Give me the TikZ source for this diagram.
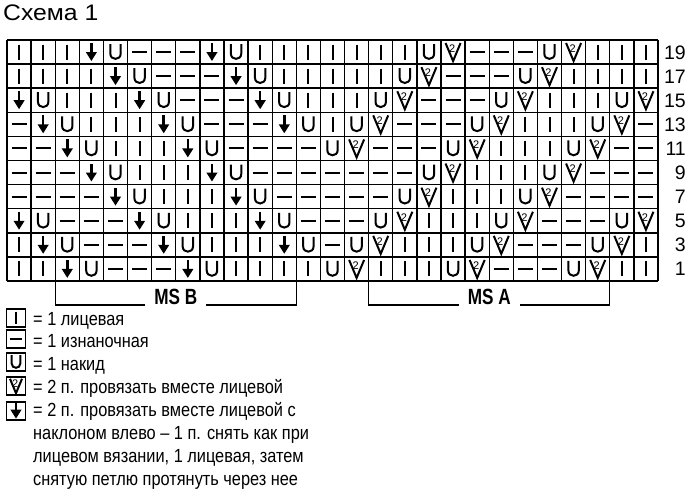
\documentclass[tikz,border=0pt]{standalone}
\usepackage{fontspec}
\setmainfont{Liberation Sans}
\usetikzlibrary{arrows.meta}
\newcommand\symK{\draw[sym] (0,-7.5) -- (0,7.5);}
\newcommand\symP{\draw[sym] (-7.5,0) -- (7.5,0);}
\newcommand\symU{\draw[sym] (-5.2,-8) -- (-5.2,1.5) .. controls (-5.2,8.6) and (5.2,8.6) .. (5.2,1.5) -- (5.2,-8);}
\newcommand\symV{\draw[sym,line join=miter] (-7.5,-9) -- (0,9) -- (7.5,-9);
  \node[font=\fontsize{11}{11}\selectfont,inner sep=0pt] at (-1,-3.5) {2};}
\newcommand\symA{\draw[line width=2.5pt,-{Triangle[width=10.5pt,length=9pt]}] (0,-9) -- (0,9);}
\begin{document}
\begin{tikzpicture}[x=1pt,y=-1pt,
  sym/.style={line width=2pt},
  gridline/.style={line width=1.4pt},
  lbl/.style={font=\fontsize{19.5}{19.5}\selectfont,inner sep=0pt,anchor=base east},
  legtxt/.style={font=\fontsize{19}{19}\selectfont,inner sep=0pt,anchor=base west},
  msl/.style={font=\bfseries\fontsize{22}{22}\selectfont,inner sep=0pt},
  bracket/.style={line width=1.4pt},
  legbox/.style={draw,line width=1.5pt,minimum width=19pt,minimum height=18pt,inner sep=0pt}]
\useasboundingbox (0,0) rectangle (690,500);
% title
\node[font=\fontsize{22.5}{22.5}\selectfont,inner sep=0pt,anchor=base west] (title) at (3,20.5) {\scalebox{1.1}[1]{Схема 1}};
% chart
\def\cw{24.1111}
\def\ch{24.1}
\foreach \row [count=\ri] in {
 {K,K,K,A,U,P,P,P,A,U,K,K,K,K,K,K,K,U,V,P,P,P,U,V,K,K,K},
 {K,K,K,K,A,U,P,P,P,A,U,K,K,K,K,K,U,V,P,P,P,U,V,K,K,K,K},
 {A,U,K,K,K,A,U,P,P,P,A,U,K,K,K,U,V,P,P,P,U,V,K,K,K,U,V},
 {P,A,U,K,K,K,A,U,P,P,P,A,U,K,U,V,P,P,P,U,V,K,K,K,U,V,P},
 {P,P,A,U,K,K,K,A,U,P,P,P,P,U,V,P,P,P,U,V,K,K,K,U,V,P,P},
 {P,P,P,A,U,K,K,K,A,U,P,P,P,P,P,P,P,U,V,K,K,K,U,V,P,P,P},
 {P,P,P,P,A,U,K,K,K,A,U,P,P,P,P,P,U,V,K,K,K,U,V,P,P,P,P},
 {A,U,P,P,P,A,U,K,K,K,A,U,P,P,P,U,V,K,K,K,U,V,P,P,P,U,V},
 {K,A,U,P,P,P,A,U,K,K,K,A,U,P,U,V,K,K,K,U,V,P,P,P,U,V,K},
 {K,K,A,U,P,P,P,A,U,K,K,K,K,U,V,K,K,K,U,V,P,P,P,U,V,K,K}} {
  \foreach \c [count=\ci] in \row {
    \pgfmathsetmacro\xx{7+(\ci-0.5)*\cw}
    \pgfmathsetmacro\yy{40+(\ri-0.5)*\ch}
    \begin{scope}[shift={(\xx,\yy)}]
      \csname sym\c\endcsname
    \end{scope}
  }
}
\foreach \i in {0,...,27} \draw[gridline] ({7+\i*\cw},40) -- ({7+\i*\cw},281);
\foreach \j in {0,...,10} \draw[gridline] (7,{40+\j*\ch}) -- (658,{40+\j*\ch});
% row numbers
\foreach \n [count=\k] in {19,17,15,13,11,9,7,5,3,1}
  \node[lbl] (r\n) at (686,{40+(\k-0.5)*\ch+7}) {\n};
% MS brackets
\coordinate (bl) at ({7+2*\cw},281);
\coordinate (br) at ({7+12*\cw},281);
\coordinate (al) at ({7+15*\cw},281);
\coordinate (ar) at ({7+25*\cw},281);
\node[msl] (msb) at ({7+7*\cw},297) {\scalebox{0.78}[1]{MS B}};
\node[msl] (msa) at ({7+20*\cw},297) {\scalebox{0.78}[1]{MS A}};
\draw[bracket] (msb.west) ++(-9,8) -| (bl);
\draw[bracket] (msb.east) ++(9,8) -| (br);
\draw[bracket] (msa.west) ++(-9,8) -| (al);
\draw[bracket] (msa.east) ++(9,8) -| (ar);
% legend
\node[legbox] (l1) at (16,318) {};
\node[legbox] (l2) at (16,339) {};
\node[legbox] (l3) at (16,362) {};
\node[legbox] (l4) at (16,386) {};
\node[legbox] (l5) at (16,411) {};
\begin{scope}[shift={(l1.center)},scale=0.85] \symK \end{scope}
\begin{scope}[shift={(l2.center)},scale=0.85] \symP \end{scope}
\begin{scope}[shift={(l3.center)},scale=0.85] \symU \end{scope}
\begin{scope}[shift={(l4.center)},scale=0.8] \symV \end{scope}
\begin{scope}[shift={(l5.center)},scale=0.85] \symA \end{scope}
\node[legtxt] (t1) at (33,325) {\scalebox{0.86}[1]{= 1 лицевая}};
\node[legtxt] (t2) at (33,347) {\scalebox{0.86}[1]{= 1 изнаночная}};
\node[legtxt] (t3) at (33,370) {\scalebox{0.86}[1]{= 1 накид}};
\node[legtxt] (t4) at (33,393) {\scalebox{0.86}[1]{= 2 п. провязать вместе лицевой}};
\node[legtxt] (t5) at (33,416.5) {\scalebox{0.86}[1]{= 2 п. провязать вместе лицевой с}};
\node[legtxt] (t6) at (33,439) {\scalebox{0.86}[1]{наклоном влево – 1 п. снять как при}};
\node[legtxt] (t7) at (33,462) {\scalebox{0.86}[1]{лицевом вязании, 1 лицевая, затем}};
\node[legtxt] (t8) at (33,485) {\scalebox{0.86}[1]{снятую петлю протянуть через нее}};
\end{tikzpicture}
\end{document}
